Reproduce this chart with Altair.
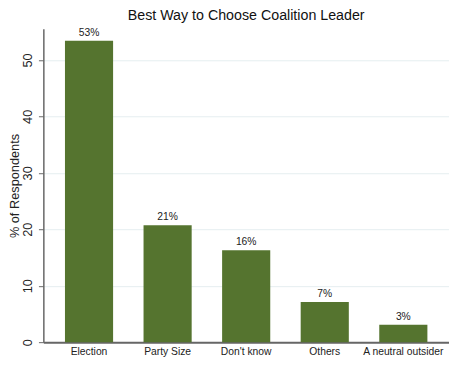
import altair as alt
import pandas as pd

categories = ["Election", "Party Size", "Don't know", "Others", "A neutral outsider"]
values = [53.4, 20.7, 16.3, 7.1, 3.1]
labels = ["53%", "21%", "16%", "7%", "3%"]

df = pd.DataFrame({"cat": categories, "val": values, "lab": labels})

FONT = "Liberation Sans"

x = alt.X("cat:N", sort=categories, title=None,
          scale=alt.Scale(paddingInner=0.3875, paddingOuter=0.275),
          axis=alt.Axis(labelAngle=0, labelFontSize=10.5, labelColor="#222",
                        labelFont=FONT, ticks=False, domainColor="#666",
                        domainWidth=2, labelPadding=5))
y = alt.Y("val:Q", title="% of Respondents",
          scale=alt.Scale(domain=[0, 55.5], nice=False),
          axis=alt.Axis(values=[0, 10, 20, 30, 40, 50], labelAngle=270,
                        labelAlign="center", labelBaseline="bottom",
                        labelFontSize=13, labelFont=FONT, labelColor="#222",
                        labelPadding=4, tickSize=5, tickColor="#666",
                        domainColor="#666", domainWidth=1.5,
                        gridColor="#e4eef0", gridWidth=1,
                        titleFontSize=13, titleFont=FONT, titleFontWeight="normal",
                        titleColor="#222", titleAngle=270, titleBaseline="bottom",
                        titleAlign="center", titleX=-22, titleY=159.5))

bars = alt.Chart(df).mark_bar(color="#55742f").encode(x=x, y=y)
text = alt.Chart(df).mark_text(dy=-5, fontSize=10.5, font=FONT, color="#222",
                               baseline="alphabetic").encode(
    x=alt.X("cat:N", sort=categories), y="val:Q", text="lab:N")

chart = alt.layer(bars, text).properties(
    width=413, height=319,
    title=alt.TitleParams("Best Way to Choose Coalition Leader", fontSize=14.5,
                          font=FONT, fontWeight="normal", color="#111",
                          anchor="middle", frame="group", baseline="alphabetic",
                          offset=0, dy=6),
    autosize=alt.AutoSizeParams(type="none"),
    padding={"left": 36, "top": 18, "right": 0, "bottom": 20},
).configure_view(stroke=None).configure_axisX(grid=False)

chart.save("out.html", embed_options={"renderer": "svg", "actions": False})
